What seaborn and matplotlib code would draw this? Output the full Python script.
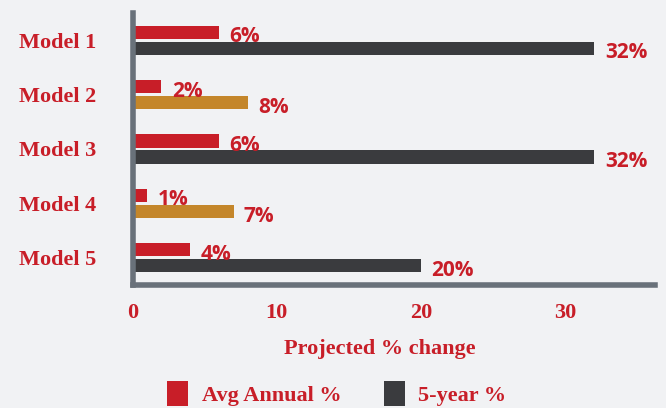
import matplotlib
matplotlib.use("Agg")
import matplotlib.pyplot as plt
import pandas as pd
import seaborn as sns

# chart data
models = ["Model 1", "Model 2", "Model 3", "Model 4", "Model 5"]
avg_annual = [6, 2, 6, 1, 4]
five_year = [32, 8, 32, 7, 20]
series_names = ["Avg Annual %", "5-year %"]
gold_models = ["Model 2", "Model 4"]   # 5-year bar drawn in gold for these
x_ticks = [0, 10, 20, 30]

RED = "#C81E28"
DARK = "#3A3B3E"
GOLD = "#C4862A"
SPINE = "#69717A"
BG = "#F1F2F4"

df = pd.DataFrame({
    "model": models * 2,
    "series": [series_names[0]] * len(models) + [series_names[1]] * len(models),
    "value": avg_annual + five_year,
})

sns.set_style("white")
plt.rcParams["font.family"] = ["Liberation Serif", "DejaVu Serif"]
plt.rcParams["font.weight"] = "bold"

fig = plt.figure(figsize=(6.66, 4.08), dpi=100, facecolor=BG)
ax = fig.add_axes([132.5 / 666, 1 - 285 / 408, 522.5 / 666, 272 / 408])
ax.set_facecolor(BG)

sns.barplot(data=df, x="value", y="model", hue="series", order=models,
            hue_order=series_names, palette=[RED, DARK], orient="h",
            width=0.59, gap=0.18, saturation=1, linewidth=0, ax=ax)

# recolour the 5-year bars of the highlighted models
for bar in ax.containers[1]:
    idx = int(round(bar.get_y() + bar.get_height() / 2))
    if models[idx] in gold_models:
        bar.set_facecolor(GOLD)

# value labels
for container in ax.containers:
    for bar in container:
        w = bar.get_width()
        yc = bar.get_y() + bar.get_height() / 2
        ax.annotate(f"{w:.0f}%", xy=(w, yc), xytext=(7.5, -1.5),
                    textcoords="offset points", ha="left", va="center_baseline",
                    color=RED, fontsize=15, fontweight="bold", family="Open Sans")

ax.set_xlim(0, 36.2)
ax.set_xticks(x_ticks)
ax.tick_params(axis="x", length=0, pad=13, labelsize=16, labelcolor=RED)
ax.tick_params(axis="y", length=0, pad=26, labelsize=16, labelcolor=RED)
ax.set_ylabel("")
ax.set_xlabel("Projected % change", fontsize=16, color=RED, fontweight="bold")
ax.xaxis.set_label_coords(0.474, -0.199)

for side in ["top", "right"]:
    ax.spines[side].set_visible(False)
for side in ["left", "bottom"]:
    ax.spines[side].set_color(SPINE)
    ax.spines[side].set_linewidth(4)

sns.move_legend(ax, "center", bbox_to_anchor=(0.391, -0.399), ncol=2,
                frameon=False, title=None, handlelength=0.95, handleheight=1.4,
                handletextpad=0.6, columnspacing=1.9,
                prop={"weight": "bold", "size": 16}, labelcolor=RED)
for h in ax.get_legend().legend_handles:
    h.set_linewidth(0)

fig.savefig("out.png", dpi=100, facecolor=BG)
